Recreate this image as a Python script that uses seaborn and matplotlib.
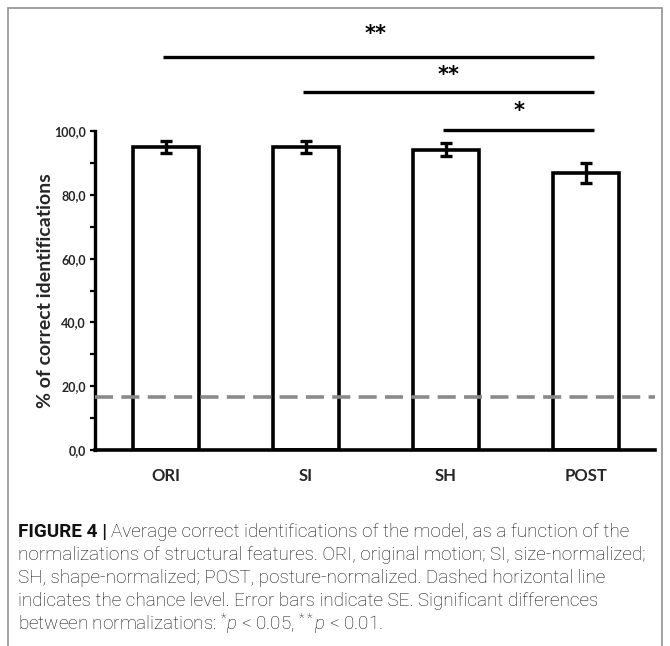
import matplotlib
matplotlib.use("Agg")
import matplotlib.pyplot as plt
import seaborn as sns
import pandas as pd
from matplotlib.patches import Rectangle

categories = ["ORI", "SI", "SH", "POST"]
means = [95.1, 95.1, 94.2, 86.9]
se = [1.9, 1.9, 2.0, 3.2]
chance = 16.67
yticks = [0, 20, 40, 60, 80, 100]
ytick_labels = ["0,0", "20,0", "40,0", "60,0", "80,0", "100,0"]
sig_pairs = [(0, 3, "**"), (1, 3, "**"), (2, 3, "*")]

sns.set_theme(style="white")
plt.rcParams["font.family"] = ["Lato", "DejaVu Sans"]

W, H = 670, 646
fig = plt.figure(figsize=(W / 100, H / 100), dpi=100)

px_per_unit = 3.19
y0_px = 450
ymax = 135
ax_left, ax_right = 95, 655
ax = fig.add_axes([ax_left / W, 1 - y0_px / H, (ax_right - ax_left) / W, ymax * px_per_unit / H])

df = pd.DataFrame({"cond": categories, "val": means})
sns.barplot(data=df, x="cond", y="val", order=categories, color="white",
            edgecolor="black", linewidth=2.6, width=0.47, errorbar=None, ax=ax, saturation=1)
for p in ax.patches:
    p.set_facecolor("white")
ax.errorbar(range(len(categories)), means, yerr=se, fmt="none", ecolor="black",
            elinewidth=2.4, capsize=4, capthick=2.4, zorder=5)

ax.set_xlim(-0.507, 3.493)
ax.set_ylim(0, ymax)
ax.axhline(chance, color="#8a8a8a", lw=2.6, ls=(0, (5, 2.3)), zorder=6)

for s in ["top", "right"]:
    ax.spines[s].set_visible(False)
ax.spines["left"].set_bounds(0, 100)
ax.spines["left"].set_linewidth(2.4)
ax.spines["bottom"].set_linewidth(2.6)
ax.spines["left"].set_color("black")
ax.spines["bottom"].set_color("black")

ax.set_yticks(yticks)
ax.set_yticklabels(ytick_labels, fontsize=9, fontweight="bold")
ax.set_yticks([10, 30, 50, 70, 90], minor=True)
ax.tick_params(axis="y", which="both", direction="out", length=3.5, width=1.6, left=True, pad=3, color="black")
ax.tick_params(axis="x", length=0, pad=13)
ax.set_xticks(range(len(categories)))
ax.set_xticklabels(categories, fontsize=12, fontweight="bold")
ax.set_xlabel("")
ax.set_ylabel("% of correct identifications", fontsize=14, fontweight="bold")
ax.yaxis.set_label_coords(-0.073, 50 / ymax)

# significance bars
line_y = [123.2, 112.2, 100.3]
star_y = [130.5, 117.5, 106.2]
for (a, b, lab), ly, sy in zip(sig_pairs, line_y, star_y):
    ax.plot([a - 0.02, b + 0.06], [ly, ly], color="black", lw=2.4, solid_capstyle="butt", clip_on=False)
    ax.text((a + b) / 2 + 0.02 if a > 0 else 1.5, sy, lab, ha="center", va="center",
            fontsize=15, fontweight="bold", color="black", family="DejaVu Sans")

# frame
fig.patches.append(Rectangle((8 / W, -0.01), 654 / W, 1 - 8 / H + 0.01, transform=fig.transFigure,
                             fill=False, edgecolor="#9a9a9a", lw=1.3))

# caption
cap_font = ["Roboto", "DejaVu Sans"]
fs = 13.6
cap_color = "#111111"
lines_y = [532, 555, 578, 601, 624]
x0 = 18 / W
t = fig.text(x0, 1 - lines_y[0] / H, "FIGURE 4 |", fontsize=fs, fontweight="bold",
             family=cap_font, va="center", color=cap_color)
fig.canvas.draw()
bb = t.get_window_extent(renderer=fig.canvas.get_renderer())
fig.text(bb.x1 / W + 4 / W, 1 - lines_y[0] / H,
         "Average correct identifications of the model, as a function of the",
         fontsize=fs, fontweight="light", family=cap_font, va="center", color=cap_color)
rest = [
    "normalizations of structural features. ORI, original motion; SI, size-normalized;",
    "SH, shape-normalized; POST, posture-normalized. Dashed horizontal line",
    "indicates the chance level. Error bars indicate SE. Significant differences",
]
for yy, txt in zip(lines_y[1:4], rest):
    fig.text(x0, 1 - yy / H, txt, fontsize=fs, fontweight="light", family=cap_font,
             va="center", color=cap_color)
plt.rcParams["mathtext.fontset"] = "custom"
plt.rcParams["mathtext.it"] = "Roboto:italic:light"
plt.rcParams["mathtext.rm"] = "Roboto:light"
fig.text(x0, 1 - lines_y[4] / H,
         r"between normalizations: $^{*}\mathit{p}$ < 0.05, $^{**}\mathit{p}$ < 0.01.",
         fontsize=fs, fontweight="light", family=cap_font, va="center", color=cap_color)

fig.savefig("out.png", dpi=100)
